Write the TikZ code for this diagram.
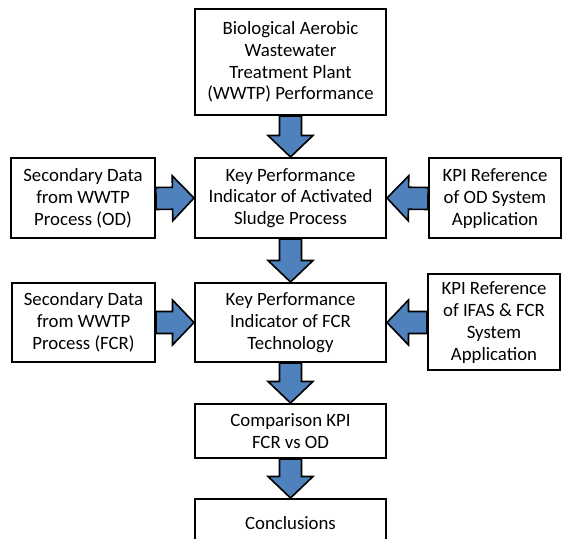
\documentclass[tikz,border=0pt]{standalone}
\usepackage{fontspec}
\setmainfont{Carlito}
\usetikzlibrary{calc}
\definecolor{arrowblue}{RGB}{79,129,189}

\newcommand{\shaftw}{5.5pt}
\newcommand{\headw}{11.25pt}
\newcommand{\headlen}{10.75pt}
\newcommand{\blockarrow}[2]{%
  \coordinate (ba-s) at (#1);
  \coordinate (ba-t) at (#2);
  \coordinate (ba-h) at ($(ba-t)!\headlen!(ba-s)$);
  \draw[fatarrow] ($(ba-s)!\shaftw!90:(ba-t)$) -- ($(ba-h)!\shaftw!90:(ba-t)$) -- ($(ba-h)!\headw!90:(ba-t)$) -- (ba-t) -- ($(ba-h)!\headw!-90:(ba-t)$) -- ($(ba-h)!\shaftw!-90:(ba-t)$) -- ($(ba-s)!\shaftw!-90:(ba-t)$) -- cycle;
}

\tikzset{
  box/.style={draw,line width=1pt,fill=white,align=center,inner sep=0pt,font=\fontsize{9.4}{10.9}\selectfont},
  fatarrow/.style={draw=black,line width=0.8pt,fill=arrowblue,line join=miter},
}

\begin{document}
\begin{tikzpicture}[x=0.5pt,y=-0.5pt]
\useasboundingbox (0,0) rectangle (563,539);
\clip (0,0) rectangle (563,539);
\node[box,minimum width=95.5pt,minimum height=53pt] (top) at (290.5,62) {Biological Aerobic\\Wastewater\\Treatment Plant\\(WWTP) Performance};
\node[box,minimum width=95.5pt,minimum height=40pt] (kpias) at (290.5,198) {Key Performance\\Indicator of Activated\\Sludge Process};
\node[box,minimum width=72pt,minimum height=40pt] (secod) at (83,198.5) {Secondary Data\\from WWTP\\Process (OD)};
\node[box,minimum width=66pt,minimum height=40pt] (refod) at (495,198.5) {KPI Reference\\of OD System\\Application};
\node[box,minimum width=95.5pt,minimum height=39.5pt] (kpifcr) at (290.5,322.5) {Key Performance\\Indicator of FCR\\Technology};
\node[box,minimum width=71.5pt,minimum height=39.5pt] (secfcr) at (83.5,322.5) {Secondary Data\\from WWTP\\Process (FCR)};
\node[box,minimum width=66pt,minimum height=48pt] (refifas) at (494,322.5) {KPI Reference\\of IFAS \& FCR\\System\\Application};
\node[box,minimum width=95.5pt,minimum height=27pt] (compare) at (290.5,431) {Comparison KPI\\FCR vs OD};
\node[box,minimum width=95.5pt,minimum height=24pt] (concl) at (290.5,523) {Conclusions};
\blockarrow{top.south}{kpias.north}
\blockarrow{secod.east}{kpias.west}
\blockarrow{refod.west}{kpias.east}
\blockarrow{kpias.south}{kpifcr.north}
\blockarrow{secfcr.east}{kpifcr.west}
\blockarrow{refifas.west}{kpifcr.east}
\blockarrow{kpifcr.south}{compare.north}
\blockarrow{compare.south}{concl.north}
\end{tikzpicture}
\end{document}
